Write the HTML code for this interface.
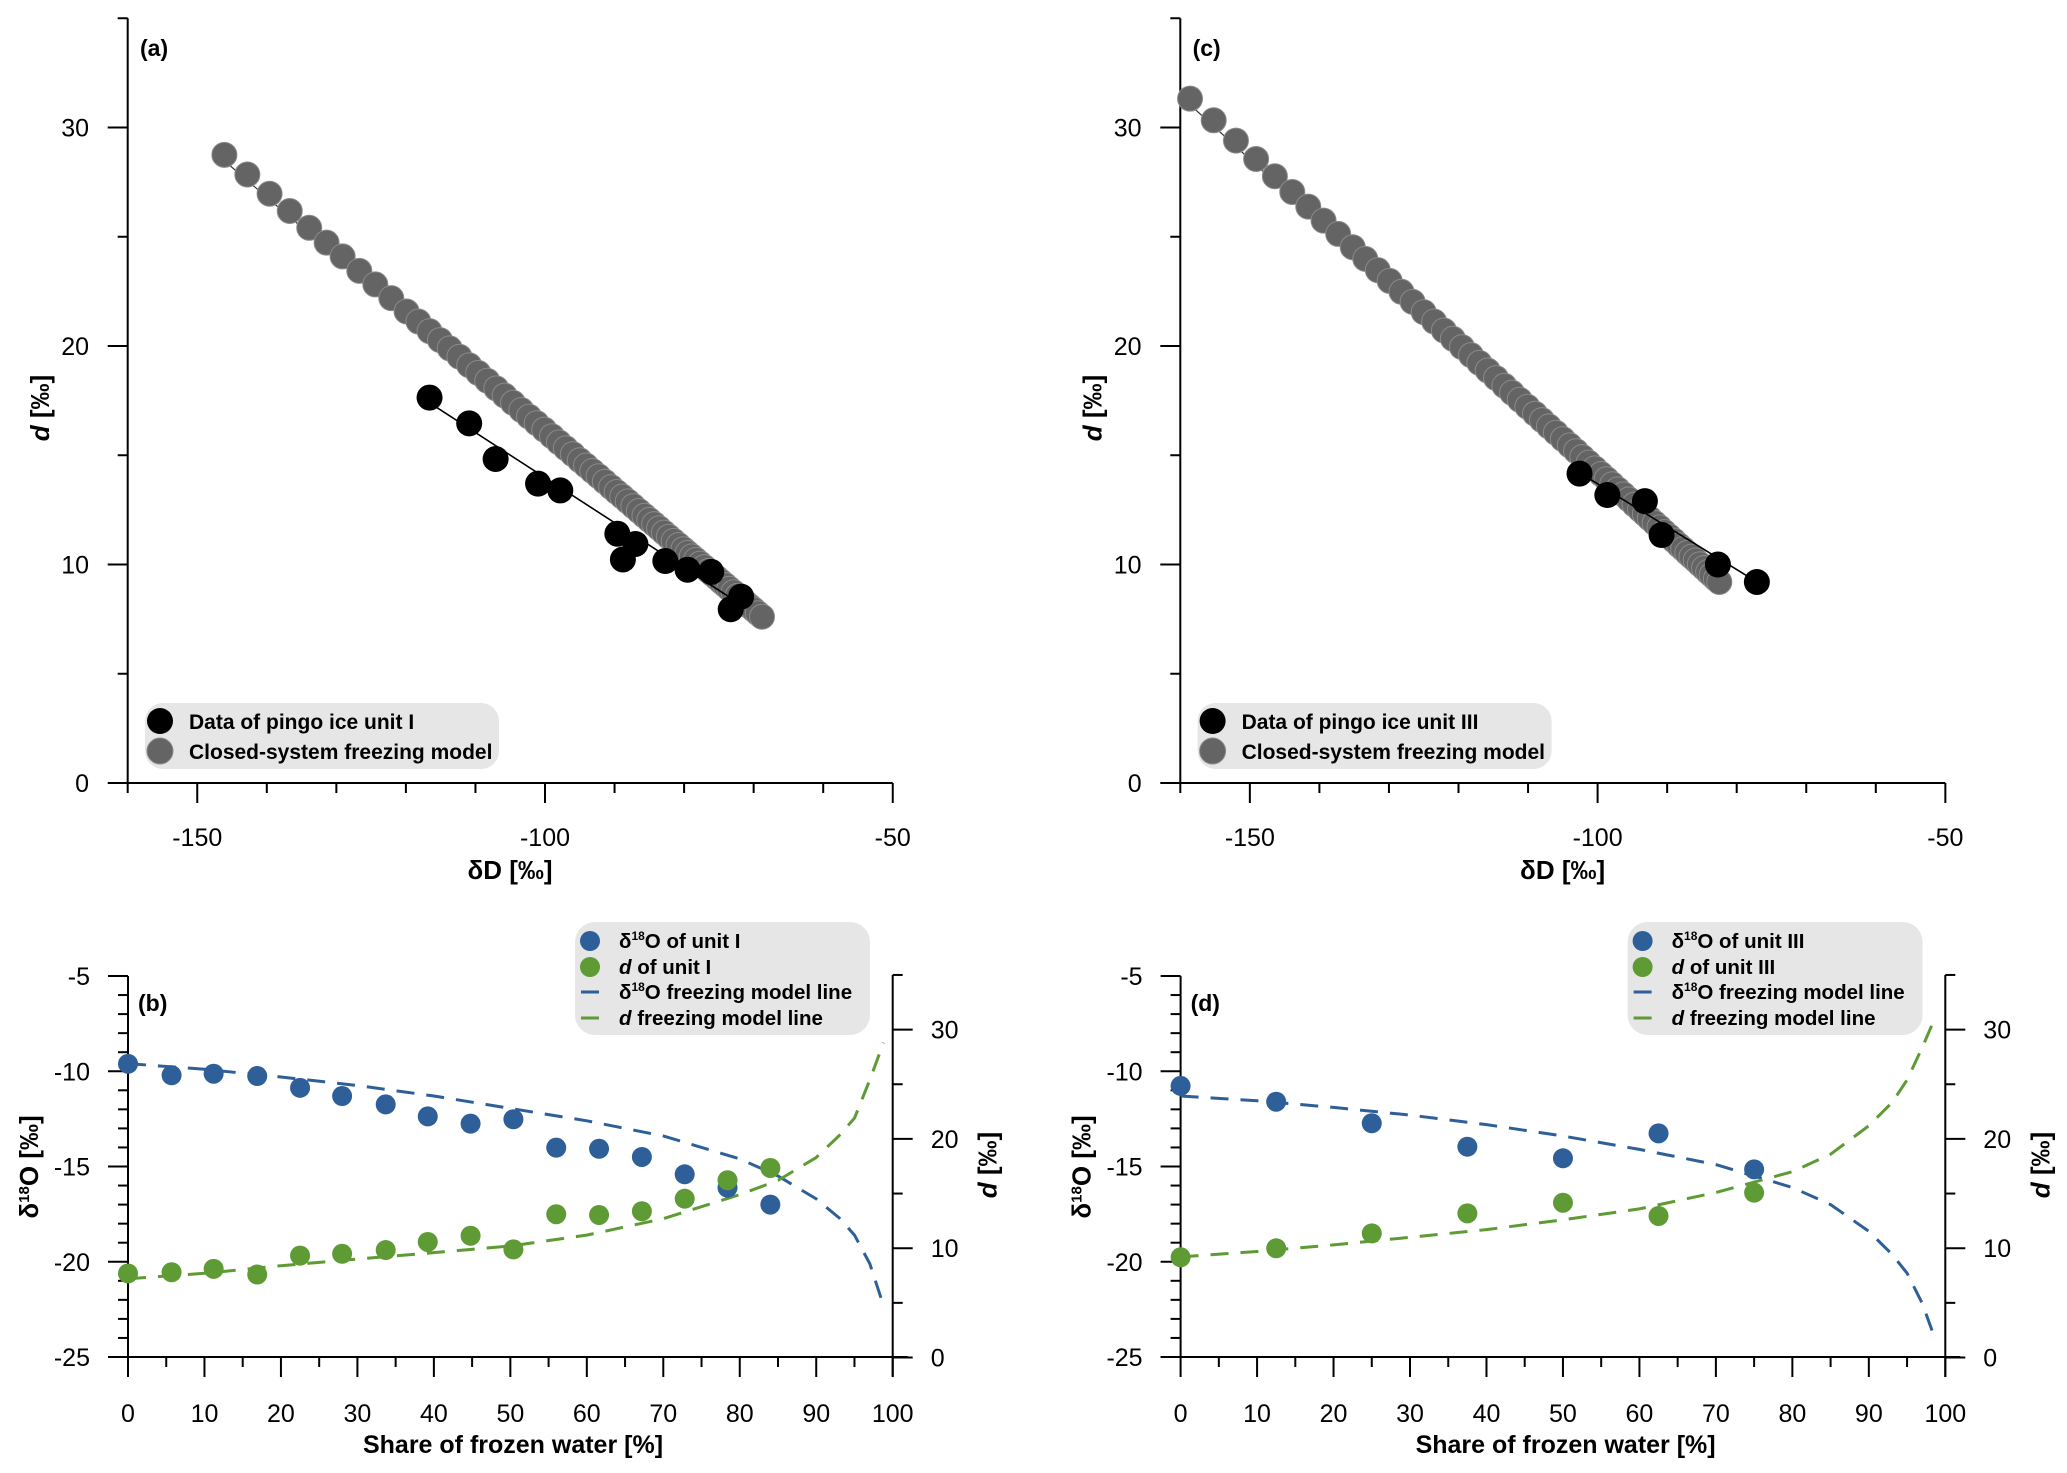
<!DOCTYPE html>
<html><head><meta charset="utf-8">
<style>
html,body{margin:0;padding:0;background:#fff;}
svg{display:block;font-family:"Liberation Sans",Arial,sans-serif;}
</style></head>
<body>
<svg id="fig" width="2067" height="1473" viewBox="0 0 2067 1473" xmlns="http://www.w3.org/2000/svg"></svg>
<script>
// ---------- Panel (a) data ----------
const aDataDD = [-116.6,-110.9,-107.1,-101.0,-97.8,-89.6,-87.0,-88.8,-82.7,-79.5,-76.1,-73.3,-71.8];
const aDataD  = [17.64,16.46,14.83,13.70,13.39,11.41,10.94,10.23,10.16,9.76,9.66,7.95,8.53];
const aFitDD = [-116.6,-72.0];
const aFitD  = [17.4,8.2];
const aModelDD = [-146.1,-142.8,-139.6,-136.7,-133.9,-131.4,-129.1,-126.7,-124.4,-122.1,-119.9,-118.2,-116.6,-115.1,-113.7,-112.3,-110.9,-109.6,-108.3,-107.0,-105.8,-104.6,-103.4,-102.3,-101.2,-100.1,-99.0,-98.0,-97.0,-96.0,-95.0,-94.1,-93.2,-92.3,-91.4,-90.5,-89.7,-88.9,-88.1,-87.3,-86.5,-85.7,-85.0,-84.3,-83.6,-82.9,-82.2,-81.5,-80.8,-80.1,-79.5,-78.9,-78.3,-77.7,-77.1,-76.5,-75.9,-75.3,-74.7,-74.1,-73.5,-72.9,-72.3,-71.7,-71.1,-70.5,-70.0,-69.4,-68.8];
const aModelD = [28.75,27.85,26.97,26.18,25.41,24.73,24.10,23.44,22.82,22.19,21.58,21.12,20.68,20.27,19.89,19.51,19.12,18.77,18.41,18.06,17.73,17.40,17.07,16.77,16.47,16.17,15.87,15.59,15.32,15.05,14.77,14.53,14.28,14.04,13.79,13.54,13.32,13.11,12.89,12.67,12.45,12.23,12.04,11.85,11.66,11.46,11.27,11.08,10.89,10.70,10.53,10.37,10.21,10.04,9.88,9.71,9.55,9.39,9.22,9.06,8.89,8.73,8.57,8.40,8.24,8.07,7.94,7.77,7.61];

// ---------- Panel (c) data ----------
const cDataDD = [-102.6,-98.6,-93.2,-90.8,-82.7,-77.1];
const cDataD  = [14.16,13.18,12.9,11.35,10.0,9.2];
const cFitDD = [-102.6,-77.1];
const cFitD  = [14.2,9.2];
const cModelDD = [-158.6,-155.2,-152.0,-149.1,-146.4,-143.9,-141.6,-139.4,-137.3,-135.2,-133.4,-131.6,-129.9,-128.2,-126.6,-125.0,-123.5,-122.1,-120.8,-119.5,-118.2,-117.0,-115.8,-114.6,-113.4,-112.3,-111.2,-110.1,-109.0,-108.0,-107.0,-106.0,-105.0,-104.0,-103.1,-102.2,-101.3,-100.4,-99.5,-98.7,-97.9,-97.1,-96.3,-95.5,-94.7,-93.9,-93.2,-92.5,-91.8,-91.1,-90.4,-89.7,-89.0,-88.3,-87.7,-87.1,-86.5,-85.9,-85.3,-84.7,-84.1,-83.6,-83.0,-82.5];
const cModelD = [31.32,30.33,29.40,28.56,27.77,27.05,26.38,25.74,25.13,24.52,23.99,23.47,22.98,22.48,22.02,21.55,21.12,20.71,20.33,19.95,19.58,19.23,18.88,18.53,18.18,17.86,17.54,17.22,16.90,16.61,16.32,16.03,15.74,15.45,15.19,14.92,14.66,14.40,14.14,13.91,13.67,13.44,13.21,12.98,12.74,12.51,12.31,12.10,11.90,11.70,11.49,11.29,11.09,10.88,10.71,10.53,10.36,10.19,10.01,9.84,9.66,9.52,9.34,9.20];

// ---------- Panel (b) data ----------
const bShare = [0,5.7,11.2,16.9,22.5,28.0,33.7,39.2,44.8,50.4,56.0,61.6,67.2,72.8,78.4,84.0];
const bO18   = [-9.61,-10.21,-10.13,-10.25,-10.87,-11.30,-11.74,-12.37,-12.75,-12.52,-14.01,-14.07,-14.50,-15.41,-16.11,-17.00];
const bDex   = [7.69,7.80,8.11,7.59,9.32,9.49,9.83,10.57,11.14,9.89,13.11,13.04,13.38,14.53,16.22,17.34];
const modelShare = [0,10,20,30,40,50,60,70,80,85,90,93,95,97,98.8];
const bModelO18 = [-9.6,-9.9,-10.3,-10.75,-11.3,-11.95,-12.6,-13.4,-14.6,-15.5,-16.7,-17.7,-18.6,-20.1,-22.3];
const bModelDex = [7.2,7.7,8.4,9.0,9.6,10.2,11.2,12.7,14.9,16.2,18.3,20.3,21.9,25.4,28.8];

// ---------- Panel (d) data ----------
const dShare = [0,12.5,25,37.5,50,62.5,75];
const dO18   = [-10.77,-11.6,-12.73,-13.96,-14.57,-13.26,-15.15];
const dDex   = [9.17,9.99,11.36,13.19,14.16,12.95,15.08];
const dModelO18 = [-11.3,-11.55,-11.9,-12.3,-12.8,-13.4,-14.1,-14.9,-16.1,-17.0,-18.4,-19.6,-20.6,-22.2,-24.2];
const dModelDex = [9.2,9.7,10.3,11.0,11.7,12.6,13.6,15.1,17.0,18.6,21.2,23.3,25.4,28.4,31.3];

// ---------- ticks ----------
const topXTicks = [-150,-100,-50];
const topYTicks = [0,10,20,30];
const botXTicks = [0,10,20,30,40,50,60,70,80,90,100];
const botLTicks = [-25,-20,-15,-10,-5];
const botRTicks = [0,10,20,30];

const NS = "http://www.w3.org/2000/svg";
const svg = document.getElementById('fig');
const BLUE = "#2e5f98", GREEN = "#5e9b34";

function el(tag, attrs, parent, text){
  const e = document.createElementNS(NS, tag);
  for (const k in attrs) e.setAttribute(k, attrs[k]);
  if (text !== undefined) e.textContent = text;
  (parent || svg).appendChild(e);
  return e;
}
function line(x1,y1,x2,y2,name,stroke,w,parent){
  const l = el('line',{x1:x1,y1:y1,x2:x2,y2:y2,stroke:stroke||'#000','stroke-width':w||2},parent);
  
  
  return l;
}
function txt(x,y,s,name,opts,parent){
  const a = Object.assign({x:x,y:y,'font-size':25,fill:'#000'}, opts||{});
  const t = el('text',a,parent,s);
  
  
  return t;
}

// ================= TOP PANELS =================
function topPanel(ox, label, dataDD, dataD, fitDD, fitD, modelDD, modelD, legendText){
  const g = el('g',{});
  
  
  const X = v => ox + 127.7 + (v + 160) * 6.955;
  const Y = v => 783 - v * 21.85;
  line(X(-160), Y(35), X(-160), Y(0), 'y-axis-line', '#000', 2, g);
  line(X(-160), Y(0), X(-50), Y(0), 'x-axis-line', '#000', 2, g);
  for (let v = -160; v <= -50; v += 10){
    const major = topXTicks.includes(v);
    line(X(v), Y(0), X(v), Y(0) + (major ? 20 : 10), 'x-tick', '#000', 2, g);
  }
  topXTicks.forEach(v => txt(X(v), 846, String(v), 'x-tick-label', {'text-anchor':'middle'}, g));
  for (let v = 0; v <= 35; v += 5){
    const major = topYTicks.includes(v);
    line(X(-160) - (major ? 20 : 10), Y(v), X(-160), Y(v), 'y-tick', '#000', 2, g);
  }
  topYTicks.forEach(v => txt(ox + 89, Y(v) + 9, String(v), 'y-tick-label', {'text-anchor':'end'}, g));
  txt(ox + 510, 879, 'δD [‰]', 'x-axis-title', {'text-anchor':'middle','font-weight':'bold','font-size':26}, g);
  const yt = txt(0, 0, '', 'y-axis-title', {'text-anchor':'middle','font-weight':'bold','font-size':26,
    transform:'translate(' + (ox + 49) + ',408) rotate(-90)'}, g);
  el('tspan',{'font-style':'italic'},yt,'d');
  el('tspan',{},yt,' [‰]');
  txt(ox + 140, 56, '(' + label + ')', 'panel-label', {'font-weight':'bold','font-size':23}, g);
  let pts = modelDD.map((v,i) => X(v).toFixed(1) + ',' + (Y(modelD[i]) + 6).toFixed(1)).join(' ');
  const ml = el('polyline',{points:pts,fill:'none',stroke:'#333','stroke-width':1.2},g);
  
  
  modelDD.forEach((v,i) => {
    const c = el('circle',{cx:X(v),cy:Y(modelD[i]),r:12.5,fill:'#646464',stroke:'#8a8a8a','stroke-width':1},g);
    
    
  });
  const fl = el('line',{x1:X(fitDD[0]),y1:Y(fitD[0]),x2:X(fitDD[1]),y2:Y(fitD[1]),stroke:'#000','stroke-width':1.6},g);
  
  
  dataDD.forEach((v,i) => {
    const c = el('circle',{cx:X(v),cy:Y(dataD[i]),r:13,fill:'#000'},g);
    
    
  });
  const lg = el('g',{},g);
  
  
  const bx = el('rect',{x:ox+145,y:703,width:354,height:66,rx:18,fill:'#e6e6e6'},lg);
  
  
  const c1 = el('circle',{cx:ox+160,cy:721,r:13,fill:'#000'},lg);
  
  
  const c2 = el('circle',{cx:ox+160,cy:751,r:13,fill:'#646464',stroke:'#8a8a8a','stroke-width':1},lg);
  
  
  txt(ox+189, 729, legendText, 'legend-entry', {'font-weight':'bold','font-size':21}, lg);
  txt(ox+189, 759, 'Closed-system freezing model', 'legend-entry', {'font-weight':'bold','font-size':21}, lg);
}

topPanel(0, 'a', aDataDD, aDataD, aFitDD, aFitD, aModelDD, aModelD, 'Data of pingo ice unit I');
topPanel(1052.6, 'c', cDataDD, cDataD, cFitDD, cFitD, cModelDD, cModelD, 'Data of pingo ice unit III');

// ================= BOTTOM PANELS =================
function supLabel(parent, x, y, before, after, name){
  const t = txt(x, y, '', name, {'font-weight':'bold','font-size':20.5}, parent);
  if (before === 'd'){
    el('tspan',{'font-style':'italic'},t,'d');
    el('tspan',{},t,after);
  } else {
    el('tspan',{},t,'δ');
    el('tspan',{'font-size':12,dy:-8},t,'18');
    el('tspan',{dy:8},t,'O' + after);
  }
  return t;
}
function botPanel(ox, label, share, o18, dex, mO18, mDex, unit){
  const g = el('g',{});
  
  
  const X = v => ox + 128 + v * 7.647;
  const YL = v => 976 + (-5 - v) * 19.05;
  const YR = v => 1357.5 - v * 10.93;
  const xr = X(100);
  line(X(0), YL(-5), X(0), YL(-25), 'left-y-axis-line', '#000', 2, g);
  line(X(0) - 20, YL(-25), xr + 15, YL(-25), 'x-axis-line', '#000', 2, g);
  line(xr, YR(35), xr, YL(-25) + 20, 'right-y-axis-line', '#000', 2, g);
  for (let v = 0; v <= 100; v += 5){
    const major = v % 10 === 0;
    line(X(v), YL(-25), X(v), YL(-25) + (major ? 20 : 10), 'x-tick', '#000', 2, g);
  }
  botXTicks.forEach(v => txt(X(v), 1422, String(v), 'x-tick-label', {'text-anchor':'middle'}, g));
  for (let v = -25; v <= -5; v += 1){
    const major = v % 5 === 0;
    line(X(0) - (major ? 20 : 10), YL(v), X(0), YL(v), 'left-y-tick', '#000', 2, g);
  }
  botLTicks.forEach(v => txt(ox + 90, YL(v) + 9, String(v), 'left-y-tick-label', {'text-anchor':'end'}, g));
  for (let v = 0; v <= 35; v += 5){
    const major = v % 10 === 0;
    line(xr, YR(v), xr + (major ? 20 : 10), YR(v), 'right-y-tick', '#000', 2, g);
  }
  botRTicks.forEach(v => txt(xr + 38, YR(v) + 9, String(v), 'right-y-tick-label', {}, g));
  txt(ox + 513, 1453, 'Share of frozen water [%]', 'x-axis-title', {'text-anchor':'middle','font-weight':'bold','font-size':25}, g);
  const lt = txt(0, 0, '', 'left-y-axis-title', {'text-anchor':'middle','font-weight':'bold','font-size':26,
    transform:'translate(' + (ox + 38) + ',1167) rotate(-90)'}, g);
  el('tspan',{},lt,'δ');
  el('tspan',{'font-size':15,dy:-9},lt,'18');
  el('tspan',{dy:9},lt,'O [‰]');
  const rt = txt(0, 0, '', 'right-y-axis-title', {'text-anchor':'middle','font-weight':'bold','font-size':26,
    transform:'translate(' + (xr + 104) + ',1165) rotate(-90)'}, g);
  el('tspan',{'font-style':'italic'},rt,'d');
  el('tspan',{},rt,' [‰]');
  txt(ox + 138, 1011, '(' + label + ')', 'panel-label', {'font-weight':'bold','font-size':23}, g);
  const p1 = modelShare.map((s,i) => X(s).toFixed(1) + ',' + YL(mO18[i]).toFixed(1)).join(' ');
  const l1 = el('polyline',{points:p1,fill:'none',stroke:BLUE,'stroke-width':3,'stroke-dasharray':'18 12'},g);
  
  
  const p2 = modelShare.map((s,i) => X(s).toFixed(1) + ',' + YR(mDex[i]).toFixed(1)).join(' ');
  const l2 = el('polyline',{points:p2,fill:'none',stroke:GREEN,'stroke-width':3,'stroke-dasharray':'18 12'},g);
  
  
  share.forEach((s,i) => {
    const c = el('circle',{cx:X(s),cy:YL(o18[i]),r:10,fill:BLUE},g);
    
    
  });
  share.forEach((s,i) => {
    const c = el('circle',{cx:X(s),cy:YR(dex[i]),r:10,fill:GREEN},g);
    
    
  });
  const lg = el('g',{},g);
  
  
  const lx = ox + 575;
  const bx = el('rect',{x:lx,y:922,width:295,height:113,rx:20,fill:'#e6e6e6'},lg);
  
  
  const m1 = el('circle',{cx:lx+15,cy:941,r:10,fill:BLUE},lg);
  
  
  const m2 = el('circle',{cx:lx+15,cy:967,r:10,fill:GREEN},lg);
  
  
  line(lx+6, 992, lx+24, 992, 'legend-line-d18o', BLUE, 3, lg);
  line(lx+6, 1018, lx+24, 1018, 'legend-line-d-excess', GREEN, 3, lg);
  supLabel(lg, lx+44, 948, 'δ', ' of unit ' + unit, 'legend-entry');
  supLabel(lg, lx+44, 974, 'd', ' of unit ' + unit, 'legend-entry');
  supLabel(lg, lx+44, 999, 'δ', ' freezing model line', 'legend-entry');
  supLabel(lg, lx+44, 1025, 'd', ' freezing model line', 'legend-entry');
}

botPanel(0, 'b', bShare, bO18, bDex, bModelO18, bModelDex, 'I');
botPanel(1052.6, 'd', dShare, dO18, dDex, dModelO18, dModelDex, 'III');
</script>
</body></html>
